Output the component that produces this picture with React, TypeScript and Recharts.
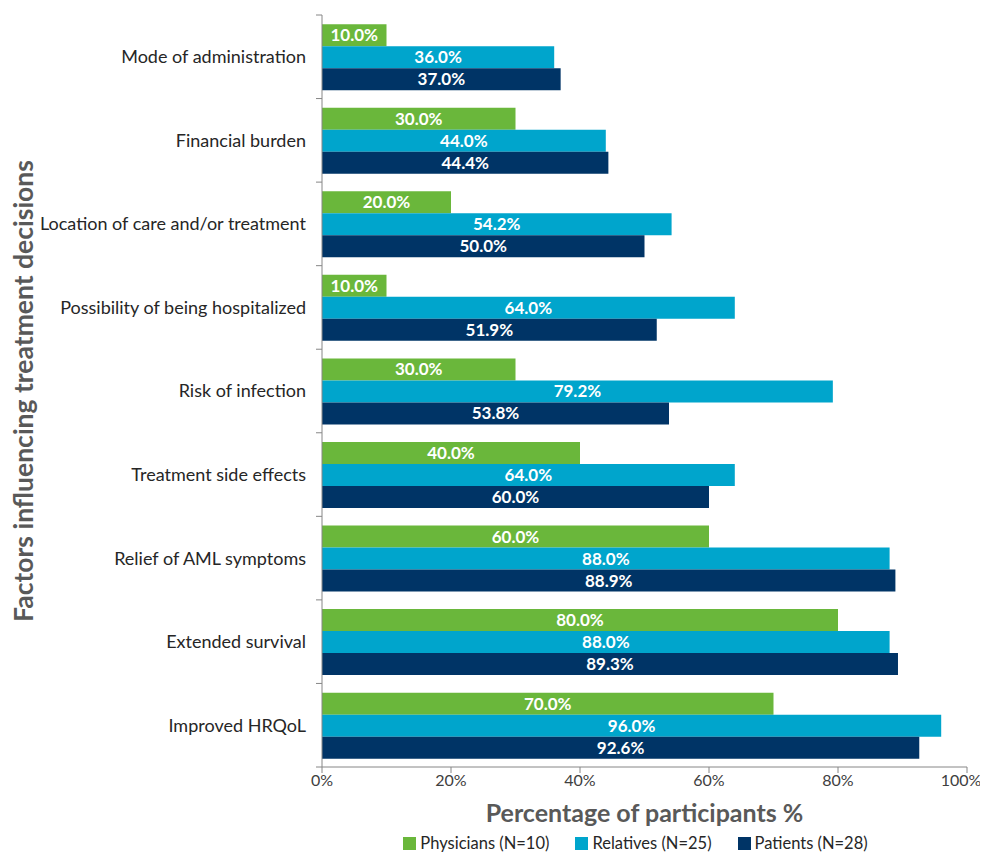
import { BarChart, Bar, XAxis, YAxis, Legend, LabelList, Label } from 'recharts'

const FACTORS = [
  'Mode of administration',
  'Financial burden',
  'Location of care and/or treatment',
  'Possibility of being hospitalized',
  'Risk of infection',
  'Treatment side effects',
  'Relief of AML symptoms',
  'Extended survival',
  'Improved HRQoL',
]

const PHYSICIANS = [10, 30, 20, 10, 30, 40, 60, 80, 70]
const RELATIVES = [36, 44, 54.2, 64, 79.2, 64, 88, 88, 96]
const PATIENTS = [37, 44.4, 50, 51.9, 53.8, 60, 88.9, 89.3, 92.6]

const X_TICKS = [0, 20, 40, 60, 80, 100]

const SERIES = [
  { key: 'physicians', name: 'Physicians (N=10)', color: '#6ab73b' },
  { key: 'relatives', name: 'Relatives (N=25)', color: '#00a5cc' },
  { key: 'patients', name: 'Patients (N=28)', color: '#003466' },
]

const FONT = 'Lato, "Open Sans", sans-serif'
const AXIS_COLOR = '#868686'
const MARGIN_TOP = 7
const TICK_SIZE = 6
const TICK_MARGIN = 10

const chartData = FACTORS.map((factor, i) => ({
  factor,
  physicians: PHYSICIANS[i],
  relatives: RELATIVES[i],
  patients: PATIENTS[i],
}))

const fmt = (v: number): string => `${v.toFixed(1)}%`

const labelStyle = { fill: '#ffffff', fontWeight: 700, fontSize: 17, fontFamily: FONT }

interface TickProps {
  x: number
  y: number
  index: number
  payload: { value: string }
}

interface XTickProps {
  x: number
  y: number
  payload: { value: number }
}

// category label plus Excel-style tick marks at the group boundaries
function FactorTick({ x, y, index, payload }: TickProps) {
  const step = (y - MARGIN_TOP) / (index + 0.5)
  const axisX = x + TICK_SIZE + TICK_MARGIN
  const last = index === FACTORS.length - 1
  return (
    <g>
      <line x1={axisX - 6} x2={axisX} y1={y - step / 2} y2={y - step / 2} stroke={AXIS_COLOR} />
      {last && <line x1={axisX - 6} x2={axisX} y1={y + step / 2} y2={y + step / 2} stroke={AXIS_COLOR} />}
      <text x={x} y={y} dy="0.355em" textAnchor="end" fill="#262626" fontSize={18} fontFamily={FONT}>
        {payload.value}
      </text>
    </g>
  )
}

// the last label is nudged left so it stays inside the frame
function PercentTick({ x, y, payload }: XTickProps) {
  const isLast = payload.value === X_TICKS[X_TICKS.length - 1]
  return (
    <text x={x} y={y} dy="0.71em" dx={isLast ? -6 : 0} textAnchor="middle" fill="#404040" fontSize={16} fontFamily={FONT}>
      {`${payload.value}%`}
    </text>
  )
}

function LegendContent() {
  return (
    <div style={{ display: 'flex', justifyContent: 'center', gap: 26, paddingLeft: 296, fontSize: 16.5, color: '#262626', fontFamily: FONT }}>
      {SERIES.map((s) => (
        <div key={s.key} style={{ display: 'flex', alignItems: 'center', gap: 4 }}>
          <div style={{ width: 13, height: 13, background: s.color }} />
          <span>{s.name}</span>
        </div>
      ))}
    </div>
  )
}

export default function App() {
  return (
    <div style={{ fontFamily: FONT }}>
      <BarChart
        width={972}
        height={845}
        data={chartData}
        layout="vertical"
        margin={{ top: MARGIN_TOP, right: 13, bottom: 0, left: 0 }}
        barCategoryGap="11%"
        barGap={0}
      >
        <XAxis
          type="number"
          domain={[0, 100]}
          ticks={X_TICKS}
          stroke={AXIS_COLOR}
          tickSize={6}
          tick={(props: XTickProps) => <PercentTick {...props} />}
          height={66}
        >
          <Label
            value="Percentage of participants %"
            position="insideBottom"
            offset={11}
            style={{ fill: '#595959', fontSize: 25, fontWeight: 700, fontFamily: FONT }}
          />
        </XAxis>
        <YAxis
          type="category"
          dataKey="factor"
          width={314}
          stroke={AXIS_COLOR}
          tickLine={false}
          tickSize={TICK_SIZE}
          tickMargin={TICK_MARGIN}
          tick={(props: TickProps) => <FactorTick {...props} />}
        >
          <Label
            value="Factors influencing treatment decisions"
            angle={-90}
            position="insideLeft"
            offset={16}
            style={{ textAnchor: 'middle', fill: '#595959', fontSize: 26.5, fontWeight: 700, fontFamily: FONT }}
          />
        </YAxis>
        <Legend verticalAlign="bottom" content={<LegendContent />} />
        {SERIES.map((s) => (
          <Bar key={s.key} dataKey={s.key} name={s.name} fill={s.color} isAnimationActive={false}>
            <LabelList dataKey={s.key} position="center" formatter={fmt} style={labelStyle} />
          </Bar>
        ))}
      </BarChart>
    </div>
  )
}
